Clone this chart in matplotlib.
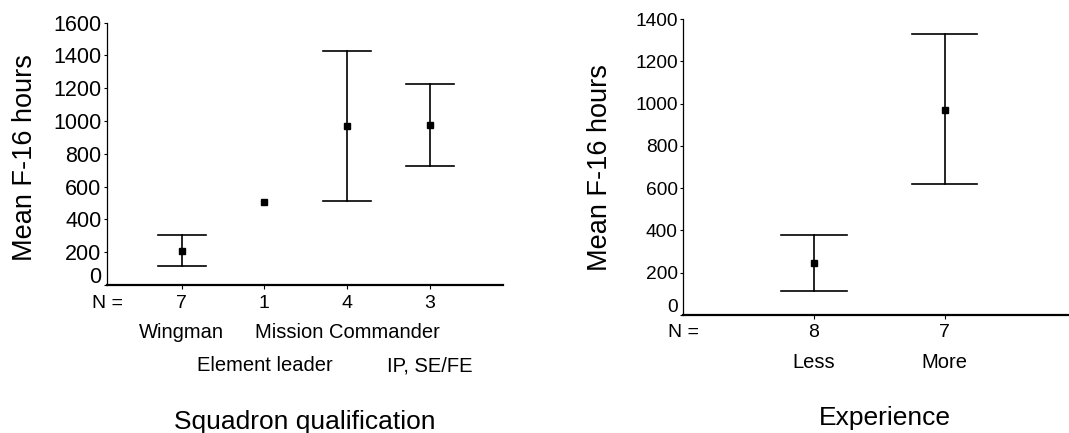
import numpy as np
import matplotlib
matplotlib.use('Agg')
import matplotlib.pyplot as plt
import matplotlib.transforms as mtransforms

plt.rcParams['font.family'] = ['Liberation Sans', 'DejaVu Sans']

# left panel: squadron qualification
sq_n = [7, 1, 4, 3]
sq_row1 = ['Wingman', '', 'Mission Commander', '']
sq_row2 = ['', 'Element leader', '', 'IP, SE/FE']
sq_mean = [207, 506, 970, 974]
sq_low = [116, np.nan, 514, 726]
sq_high = [305, np.nan, 1429, 1225]

# right panel: experience
ex_n = [8, 7]
ex_labels = ['Less', 'More']
ex_mean = [244, 968]
ex_low = [113, 618]
ex_high = [378, 1327]

W, H = 1069, 433
fig = plt.figure(figsize=(W / 100, H / 100), dpi=100)


def fy(px):
    return (H - px) / H


def panel(rect, xlim, ylim, yticks, means, lows, highs, cap, tick_fs):
    ax = fig.add_axes(rect)
    x = np.arange(1, len(means) + 1)
    for xi, m, lo, hi in zip(x, means, lows, highs):
        if not np.isnan(lo):
            ax.plot([xi, xi], [lo, hi], color='black', lw=1.2)
            ax.plot([xi - cap, xi + cap], [hi, hi], color='black', lw=1.2)
            ax.plot([xi - cap, xi + cap], [lo, lo], color='black', lw=1.2)
        ax.plot(xi, m, marker='s', ms=4.5, color='black', ls='none')
    ax.set_xlim(*xlim)
    ax.set_ylim(*ylim)
    ax.set_yticks(yticks)
    ax.set_xticks(x)
    ax.set_xticklabels([])
    ax.tick_params(axis='y', length=2.5, width=0.8, labelsize=tick_fs, pad=1.5)
    ax.tick_params(axis='x', length=3, width=0.8, direction='out')
    for s in ['top', 'right']:
        ax.spines[s].set_visible(False)
    ax.spines['left'].set_linewidth(0.9)
    ax.spines['bottom'].set_linewidth(1.6)
    # nudge the "0" label up like the original
    lbl0 = ax.get_yticklabels()[0]
    lbl0.set_transform(lbl0.get_transform() +
                       mtransforms.ScaledTranslation(0, 10 / 100, fig.dpi_scale_trans))
    return ax, x


# left panel
axL, xL = panel([107 / W, fy(285), (503 - 107) / W, (285 - 22.5) / H],
                (0.1, 4.88), (0, 1600), range(0, 1601, 200),
                sq_mean, sq_low, sq_high, 0.29, 15.5)
trL = mtransforms.blended_transform_factory(axL.transData, fig.transFigure)
axL.text(0.1, fy(308), 'N =', transform=trL, ha='center', va='baseline', fontsize=14)
for xi, n, r1, r2 in zip(xL, sq_n, sq_row1, sq_row2):
    axL.text(xi, fy(308), str(n), transform=trL, ha='center', va='baseline', fontsize=14)
    if r1:
        axL.text(xi, fy(338), r1, transform=trL, ha='center', va='baseline', fontsize=14.5)
    if r2:
        axL.text(xi, fy(371), r2, transform=trL, ha='center', va='baseline', fontsize=14.5)
fig.text(305 / W, fy(429), 'Squadron qualification', ha='center', va='baseline', fontsize=19)
fig.text(25 / W, fy(157.5), 'Mean F-16 hours', rotation=90, ha='center', va='center', fontsize=19.5)

# right panel
axR, xR = panel([683.3 / W, fy(315), (W - 683.3) / W, (315 - 19) / H],
                (0, 2.95), (0, 1400), range(0, 1401, 200),
                ex_mean, ex_low, ex_high, 0.25, 13.8)
trR = mtransforms.blended_transform_factory(axR.transData, fig.transFigure)
axR.text(0, fy(337), 'N =', transform=trR, ha='center', va='baseline', fontsize=14)
for xi, n, lab in zip(xR, ex_n, ex_labels):
    axR.text(xi, fy(337), str(n), transform=trR, ha='center', va='baseline', fontsize=14)
    axR.text(xi, fy(368), lab, transform=trR, ha='center', va='baseline', fontsize=14.5)
fig.text(885 / W, fy(425), 'Experience', ha='center', va='baseline', fontsize=19)
fig.text(600 / W, fy(167.5), 'Mean F-16 hours', rotation=90, ha='center', va='center', fontsize=19.5)

fig.savefig('out.png', dpi=100)
